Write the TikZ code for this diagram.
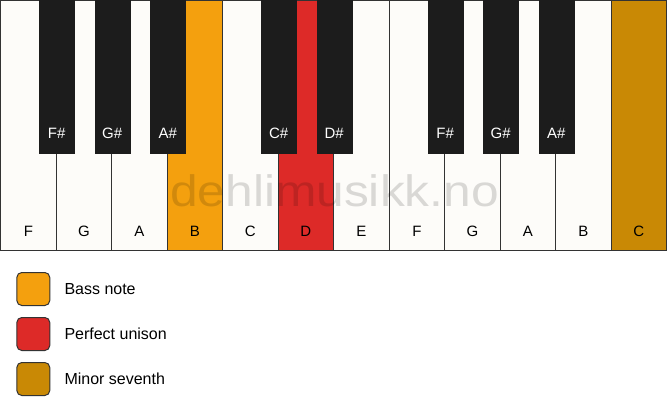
\documentclass[tikz,border=0pt]{standalone}
\usepackage{fontspec}
\setmainfont{Liberation Sans}
\usetikzlibrary{positioning}

\definecolor{keywhite}{HTML}{FDFCF9}
\definecolor{keyblack}{HTML}{1C1C1C}
\definecolor{keyline}{HTML}{333333}
\definecolor{bassnote}{HTML}{F4A00E}
\definecolor{unison}{HTML}{DD2A28}
\definecolor{seventh}{HTML}{C98905}

\begin{document}
\begin{tikzpicture}[
    x=1pt, y=1pt,
    whitekey/.style={
      draw=keyline, line width=1.2pt, rectangle, anchor=north west,
      minimum width=55.5pt, minimum height=250pt, inner sep=0pt
    },
    blackkey/.style={
      draw=keyblack, fill=keyblack, rectangle, anchor=north,
      minimum width=35pt, minimum height=153pt, inner sep=0pt
    },
    keyname/.style={inner sep=0pt, font=\fontsize{15}{15}\selectfont},
    legendbox/.style={
      draw=keyline, line width=1pt, rectangle, rounded corners=5,
      minimum width=33pt, minimum height=33pt, inner sep=0pt
    },
    legendtext/.style={inner sep=0pt, anchor=west, font=\fontsize{16}{16}\selectfont}
]
  \useasboundingbox (0,0) rectangle (667,-417);

  % Touches blanches
  \foreach \n/\c [count=\i] in {F/keywhite, G/keywhite, A/keywhite, B/bassnote,
      C/keywhite, D/unison, E/keywhite, F/keywhite, G/keywhite, A/keywhite,
      B/keywhite, C/seventh} {
    \node[whitekey, fill=\c] (w\i) at ({(\i-1)*55.5}, 0) {};
    \node[keyname, above=14.5pt of w\i.south] (wl\i) {\n};
  }

  % Touches noires
  \foreach \n/\k in {F/1, G/2, A/3, C/5, D/6, F/8, G/9, A/10} {
    \node[blackkey] (b\k) at (w\k.north east) {};
    \node[keyname, text=white, above=14.5pt of b\k.south] (bl\k) {\n\#};
  }

  % Filigrane
  \node[anchor=base, inner sep=0pt, text=black, opacity=0.14,
        font=\fontsize{44}{44}\selectfont] (wm) at (334.5,-206.7)
    {\scalebox{1.13}[1]{dehlimusikk.no}};

  % Légende
  \node[legendbox, fill=bassnote] (lg1) at (33.3,-289) {};
  \node[legendbox, fill=unison, below=11pt of lg1] (lg2) {};
  \node[legendbox, fill=seventh, below=11pt of lg2] (lg3) {};

  \node[legendtext, right=14pt of lg1] (lt1) {Bass note};
  \node[legendtext, right=14pt of lg2] (lt2) {Perfect unison};
  \node[legendtext, right=14pt of lg3] (lt3) {Minor seventh};
\end{tikzpicture}
\end{document}
